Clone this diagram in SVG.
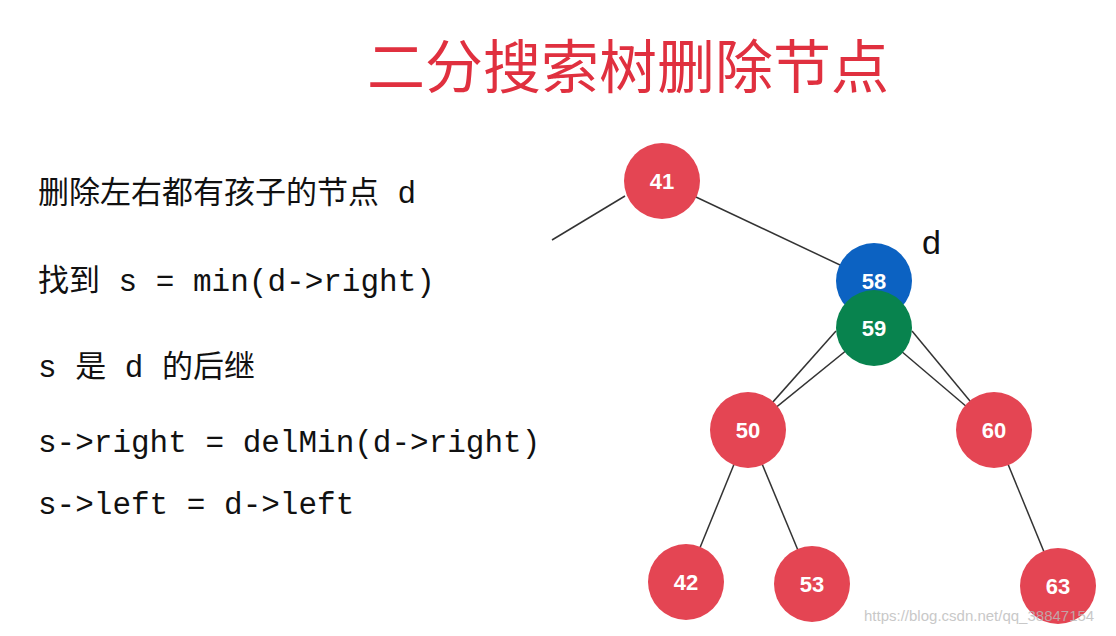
<svg xmlns="http://www.w3.org/2000/svg" width="1116" height="636" viewBox="0 0 1116 636">
<style>
.t{font-family:"Liberation Mono","Noto Sans CJK SC",monospace;font-size:31px;fill:#111}
.n{font-family:"Liberation Sans","Noto Sans",sans-serif;font-size:22px;font-weight:bold;fill:#fff;text-anchor:middle}
.r{fill:#e44553}
line{stroke:#333;stroke-width:1.5}
</style>
<rect width="1116" height="636" fill="#fff"/>
<text x="628" y="88" text-anchor="middle" font-family="Noto Sans CJK SC,sans-serif" font-size="58" fill="#e0303f">二分搜索树删除节点</text>
<text class="t" x="38" y="203">删除左右都有孩子的节点 d</text>
<text class="t" x="38" y="291">找到 s = min(d-&gt;right)</text>
<text class="t" x="38" y="377">s 是 d 的后继</text>
<text class="t" x="38" y="452">s-&gt;right = delMin(d-&gt;right)</text>
<text class="t" x="38" y="514">s-&gt;left = d-&gt;left</text>
<text x="922" y="254" font-family="Liberation Sans,sans-serif" font-size="34" fill="#111">d</text>
<g id="connectors">
<line x1="625" y1="196" x2="552" y2="240"/>
<line x1="662" y1="181" x2="874" y2="281"/>
<line x1="836" y1="331" x2="748" y2="430"/>
<line x1="874" y1="328" x2="748" y2="430"/>
<line x1="912" y1="331" x2="994" y2="430"/>
<line x1="874" y1="328" x2="994" y2="430"/>
<line x1="748" y1="430" x2="686" y2="582"/>
<line x1="748" y1="430" x2="812" y2="584"/>
<line x1="994" y1="430" x2="1058" y2="586"/>
</g>
<g id="n41"><circle class="r" cx="662" cy="181" r="38"/><text class="n" x="662" y="189">41</text></g>
<g id="n58"><circle cx="874" cy="281" r="38" fill="#0c62c2"/><text class="n" x="874" y="289">58</text></g>
<g id="n59"><circle cx="874" cy="328" r="38" fill="#08834e"/><text class="n" x="874" y="336">59</text></g>
<g id="n50"><circle class="r" cx="748" cy="430" r="38"/><text class="n" x="748" y="438">50</text></g>
<g id="n60"><circle class="r" cx="994" cy="430" r="38"/><text class="n" x="994" y="438">60</text></g>
<g id="n42"><circle class="r" cx="686" cy="582" r="38"/><text class="n" x="686" y="590">42</text></g>
<g id="n53"><circle class="r" cx="812" cy="584" r="38"/><text class="n" x="812" y="592">53</text></g>
<g id="n63"><circle class="r" cx="1058" cy="586" r="38"/><text class="n" x="1058" y="594">63</text></g>
<text x="864" y="621" font-family="Liberation Sans,sans-serif" font-size="15" fill="#bbb" opacity="0.8">https://blog.csdn.net/qq_38847154</text>
</svg>
